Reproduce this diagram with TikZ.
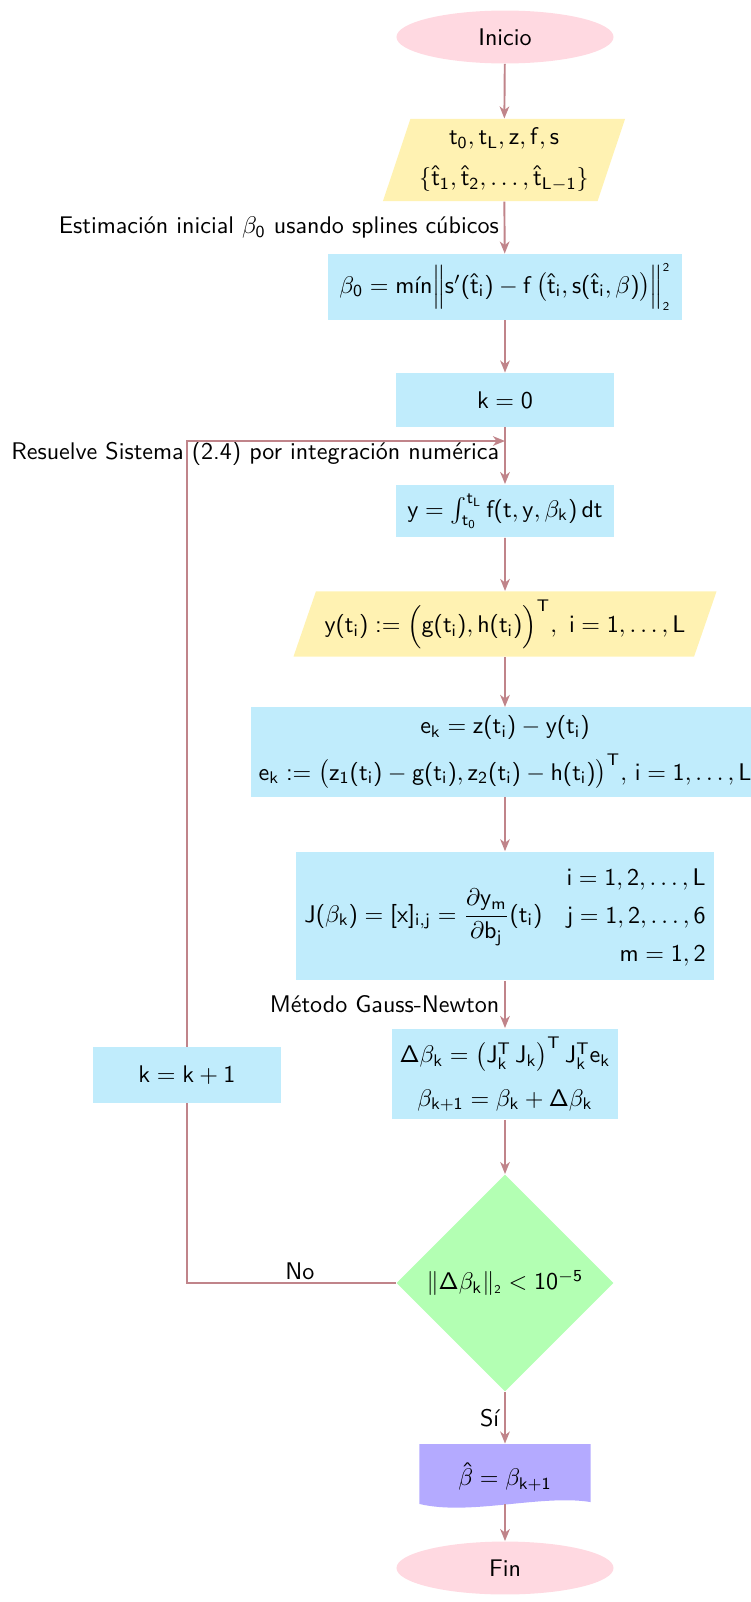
\documentclass[tikz,border=0pt]{standalone}
\usepackage{amsmath}
\usetikzlibrary{shapes.geometric,arrows.meta,positioning}
\renewcommand{\familydefault}{\sfdefault}
\SetSymbolFont{operators}{normal}{OT1}{cmss}{m}{n}
\SetSymbolFont{operators}{bold}{OT1}{cmss}{bx}{n}
\newcount\lcnt
\lcnt=97
\loop
  \mathcode\lcnt=\numexpr"7000+\lcnt\relax
  \advance\lcnt by 1
\ifnum\lcnt<123 \repeat
\lcnt=65
\loop
  \mathcode\lcnt=\numexpr"7000+\lcnt\relax
  \advance\lcnt by 1
\ifnum\lcnt<91 \repeat
\definecolor{linec}{RGB}{192,132,138}
\definecolor{pinkc}{RGB}{255,217,225}
\definecolor{yellowc}{RGB}{255,242,178}
\definecolor{bluec}{RGB}{192,236,252}
\definecolor{greenc}{RGB}{179,255,179}
\definecolor{purplec}{RGB}{180,170,255}
\newcommand{\mmin}{\mathop{\textnormal{mín}}\nolimits}
\newcommand{\nrmL}{\mathopen{\nulldelimiterspace=0pt\left\|\vcenter{\hbox{\rule{0pt}{17pt}}}\right.}\mkern-3mu}
\newcommand{\nrmR}{\mkern-3mu\mathclose{\nulldelimiterspace=0pt\left.\vcenter{\hbox{\rule{0pt}{17pt}}}\right\|}}
\begin{document}
\begin{tikzpicture}[x=0.4156pt,y=-0.4156pt,
  conn/.style={draw=linec, line width=0.8pt, -{Stealth[length=5pt,width=4pt,inset=1.5pt]}},
  plain/.style={draw=linec, line width=0.8pt},
  startstop/.style={ellipse, fill=pinkc, minimum width=90.2pt, minimum height=22pt},
  io/.style={trapezium, trapezium left angle=71, trapezium right angle=109, trapezium stretches body, fill=yellowc},
  proc/.style={rectangle, fill=bluec, align=center},
  decision/.style={diamond, fill=greenc, aspect=1, inner sep=0pt, minimum size=90.2pt},
  lbl/.style={inner sep=2pt}
]
\useasboundingbox (0,0) rectangle (750,1602);

\node[startstop] (ini) at (505,37) {Inicio};
\node[io, minimum width=100.6pt, minimum height=34.1pt, align=center] (in1) at (504,160)
  {$t_0, t_L, z, f, s$\\[5pt] $\{\hat{t}_1, \hat{t}_2, \ldots, \hat{t}_{L-1}\}$};
\node[proc, minimum width=147.5pt, minimum height=27.4pt, inner ysep=2pt] (b0) at (505,287)
  {$\beta_0 = \mmin\nrmL s'(\hat{t}_i) - f\left(\hat{t}_i, s(\hat{t}_i,\beta)\right)\nrmR_{\scriptscriptstyle 2}^{\scriptscriptstyle 2}$};
\node[proc, minimum width=91pt, minimum height=22.4pt] (k0) at (505,400) {$k = 0$};
\node[proc, minimum width=91pt, minimum height=22pt] (yint) at (505,511)
  {$y = \int_{t_0}^{t_L} f(t, y, \beta_k)\, dt$};
\node[io, minimum width=175.8pt, minimum height=27pt] (in2) at (505,624)
  {$y(t_i) := \Big(g(t_i), h(t_i)\Big)^{T},\ i = 1, \ldots, L$};
\node[proc, minimum width=210.3pt, minimum height=33.7pt] (ek) at (505,752)
  {$e_k = z(t_i) - y(t_i)$\\[5pt]
   $e_k := \bigl(z_1(t_i) - g(t_i), z_2(t_i) - h(t_i)\bigr)^{T}, \, i = 1, \ldots, L$};
\node[proc, minimum width=173.7pt, minimum height=48.2pt] (jac) at (505,916)
  {\renewcommand{\arraystretch}{1.3}$\displaystyle J(\beta_k) = [x]_{i,j} = \frac{\partial y_m}{\partial b_j}(t_i)
   \quad \begin{array}{@{}r@{}} i = 1, 2, \ldots, L\\ j = 1, 2, \ldots, 6\\ m = 1, 2\end{array}$};
\node[proc, minimum width=93.9pt, minimum height=37.8pt] (db) at (505,1074)
  {$\Delta\beta_k = \bigl(J_k^{T}\, J_k\bigr)^{T}\, J_k^{T} e_k$\\[6pt]
   $\beta_{k+1} = \beta_k + \Delta\beta_k$};
\node[proc, minimum width=78.5pt, minimum height=22.9pt] (kk) at (187,1075) {$k = k + 1$};
\node[decision] (dec) at (505,1283) {$\|\Delta\beta_k\|_{\scriptscriptstyle 2} < 10^{-5}$};
\node[minimum width=71.1pt, minimum height=27.4pt, inner sep=0pt,
  path picture={
    \fill[purplec] (path picture bounding box.north west) -- (path picture bounding box.north east)
      -- ([yshift=3.3pt]path picture bounding box.south east)
      .. controls ([xshift=-20.4pt,yshift=6.6pt]path picture bounding box.south east)
      and ([xshift=20.8pt,yshift=-2.5pt]path picture bounding box.south west)
      .. ([yshift=2.5pt]path picture bounding box.south west) -- cycle;
  }] (out) at (505,1477) {$\hat{\beta} = \beta_{k+1}$};
\node[startstop] (fin) at (505,1568) {Fin};

\coordinate (loopin) at (505,441);

\draw[conn] (ini) -- (in1);
\draw[conn] (in1) -- node[lbl, left] {Estimación inicial $\beta_0$ usando splines cúbicos} (b0);
\draw[conn] (b0) -- (k0);
\draw[conn] (k0) -- node[lbl, left, yshift=1pt] {Resuelve Sistema (2.4) por integración numérica} (yint);
\draw[conn] (yint) -- (in2);
\draw[conn] (in2) -- (ek);
\draw[conn] (ek) -- (jac);
\draw[conn] (jac) -- node[lbl, left] {Método Gauss-Newton} (db);
\draw[conn] (db) -- (dec);
\draw[conn] (dec) -- node[lbl, left] {Sí} (out);
\draw[conn] ([yshift=2.5pt]out.south) -- (fin);
\draw[plain] (dec.west) -| node[pos=0.23, above, inner sep=1pt] {No} (kk.south);
\draw[conn] (kk.north) |- (loopin);
\end{tikzpicture}
\end{document}
